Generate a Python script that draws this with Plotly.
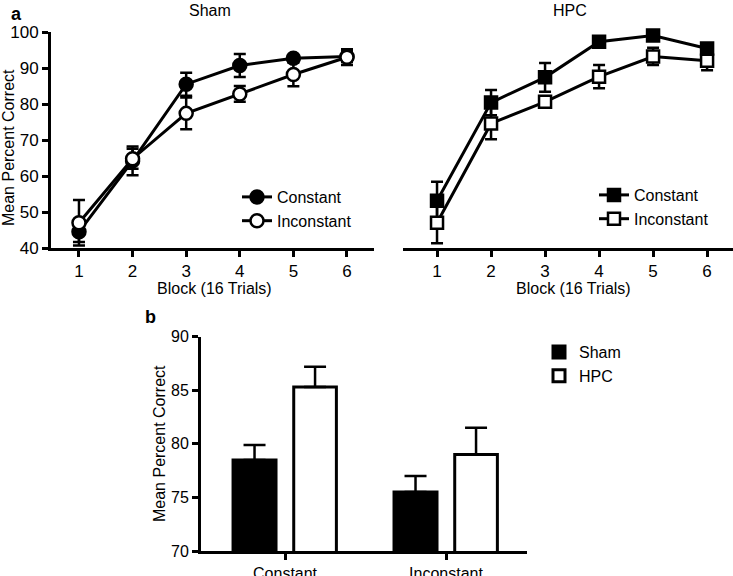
import plotly.graph_objects as go

# ---------------- data ----------------
blocks = [1, 2, 3, 4, 5, 6]
block_ticks = ["1", "2", "3", "4", "5", "6"]

sham_constant = [44.5, 64.2, 85.5, 90.7, 92.7, 93.2]
sham_constant_err = [2.8, 4.0, 3.2, 3.2, 0.8, 1.5]
sham_inconstant = [47.0, 64.8, 77.4, 82.8, 88.2, 93.0]
sham_inconstant_err = [6.3, 2.8, 4.4, 2.2, 3.3, 2.2]

hpc_constant = [53.1, 80.4, 87.4, 97.3, 99.0, 95.4]
hpc_constant_err = [5.3, 3.5, 4.0, 0.8, 1.0, 1.0]
hpc_inconstant = [47.0, 74.6, 80.6, 87.6, 93.2, 92.0]
hpc_inconstant_err = [5.7, 4.4, 1.5, 3.2, 2.4, 2.6]

conditions = ["Constant", "Inconstant"]
bar_sham = [78.5, 75.5]
bar_sham_err = [1.4, 1.5]
bar_hpc = [85.3, 79.0]
bar_hpc_err = [1.9, 2.5]

FONT = "Liberation Sans, Arial, Helvetica, sans-serif"
FS = 16
W, H = 733, 576


def px_x(p):
    return p / W


def px_y(p):
    return 1 - p / H


fig = go.Figure()


def line_trace(x, y, err, name, symbol, filled, xa, ya, legend):
    return go.Scatter(
        x=x, y=y, name=name, mode="lines+markers",
        xaxis=xa, yaxis=ya, legend=legend, cliponaxis=False,
        line=dict(color="black", width=3),
        marker=dict(symbol=symbol, size=13 if symbol == "circle" else 12,
                    color="black" if filled else "white",
                    line=dict(color="black", width=2.5)),
        error_y=dict(type="data", array=err, visible=True, color="black",
                     thickness=2.5, width=6),
    )


fig.add_trace(line_trace(blocks, sham_constant, sham_constant_err, "Constant",
                         "circle", True, "x", "y", "legend"))
fig.add_trace(line_trace(blocks, sham_inconstant, sham_inconstant_err, "Inconstant",
                         "circle", False, "x", "y", "legend"))
fig.add_trace(line_trace(blocks, hpc_constant, hpc_constant_err, "Constant",
                         "square", True, "x2", "y2", "legend2"))
fig.add_trace(line_trace(blocks, hpc_inconstant, hpc_inconstant_err, "Inconstant",
                         "square", False, "x2", "y2", "legend2"))

fig.add_trace(go.Bar(
    x=conditions, y=bar_sham, name="Sham", xaxis="x3", yaxis="y3", legend="legend3",
    offset=-0.323, width=0.267,
    marker=dict(color="black", line=dict(color="black", width=3)),
    error_y=dict(type="data", symmetric=False, array=bar_sham_err,
                 arrayminus=[0, 0], color="black", thickness=2.5, width=11),
))
fig.add_trace(go.Bar(
    x=conditions, y=bar_hpc, name="HPC", xaxis="x3", yaxis="y3", legend="legend3",
    offset=0.054, width=0.265,
    marker=dict(color="white", line=dict(color="black", width=3)),
    error_y=dict(type="data", symmetric=False, array=bar_hpc_err,
                 arrayminus=[0, 0], color="black", thickness=2.5, width=11),
))


def axis_style(tick_size):
    return dict(showline=True, linecolor="black", linewidth=3,
                ticks="outside", ticklen=6, tickwidth=3, tickcolor="black",
                showgrid=False, zeroline=False, automargin=False,
                tickfont=dict(family=FONT, size=tick_size, color="black"))


ya_dom = [px_y(248), px_y(32)]


def label(text, x, y, size=FS, angle=0):
    return dict(text=text, x=px_x(x), y=px_y(y), xref="paper", yref="paper",
                xanchor="center", yanchor="middle", showarrow=False,
                textangle=angle,
                font=dict(family=FONT, size=size, color="black"))


leg_common = dict(xanchor="left", yanchor="top", bgcolor="rgba(0,0,0,0)",
                  font=dict(family=FONT, size=FS, color="black"), tracegroupgap=0)

fig.update_layout(
    width=W, height=H,
    margin=dict(l=0, r=0, t=0, b=0, autoexpand=False),
    paper_bgcolor="white", plot_bgcolor="white",
    font=dict(family=FONT, size=FS, color="black"),
    barmode="overlay",
    xaxis=dict(domain=[px_x(51), px_x(374)], range=[0.478, 6.504],
               tickvals=blocks, ticktext=block_ticks, anchor="y", **axis_style(17)),
    yaxis=dict(domain=ya_dom, range=[40, 100], dtick=10, anchor="x", **axis_style(17)),
    xaxis2=dict(domain=[px_x(403), 1.0], range=[0.37, 6.48],
                tickvals=blocks, ticktext=block_ticks, anchor="y2", **axis_style(17)),
    yaxis2=dict(domain=ya_dom, range=[40, 100], anchor="x2", visible=False),
    xaxis3=dict(domain=[px_x(201), px_x(527)], range=[-0.522, 1.503],
                anchor="y3", type="category", **axis_style(16)),
    yaxis3=dict(domain=[px_y(551), px_y(336.7)], range=[70, 90], dtick=5,
                anchor="x3", **axis_style(16)),
    legend=dict(x=px_x(237), y=px_y(180), **leg_common),
    legend2=dict(x=px_x(594), y=px_y(178), **leg_common),
    legend3=dict(x=px_x(539), y=px_y(335), **leg_common),
    showlegend=True,
    annotations=[
        label("<b>a</b>", 16, 14, 18),
        label("<b>b</b>", 150, 317, 18),
        label("Sham", 210, 11),
        label("HPC", 570, 11),
        label("Block (16 Trials)", 214, 288),
        label("Block (16 Trials)", 573, 288),
        label("Mean Percent Correct", 8, 148, angle=-90),
        label("Mean Percent Correct", 159, 444, angle=-90),
    ],
)

# remove the browser's default 8px body margin so the figure fills the window
fig.write_html("out.html",
               config={"displayModeBar": False},
               post_script="document.body.style.margin='0';"
                           "document.body.style.overflow='hidden';")
